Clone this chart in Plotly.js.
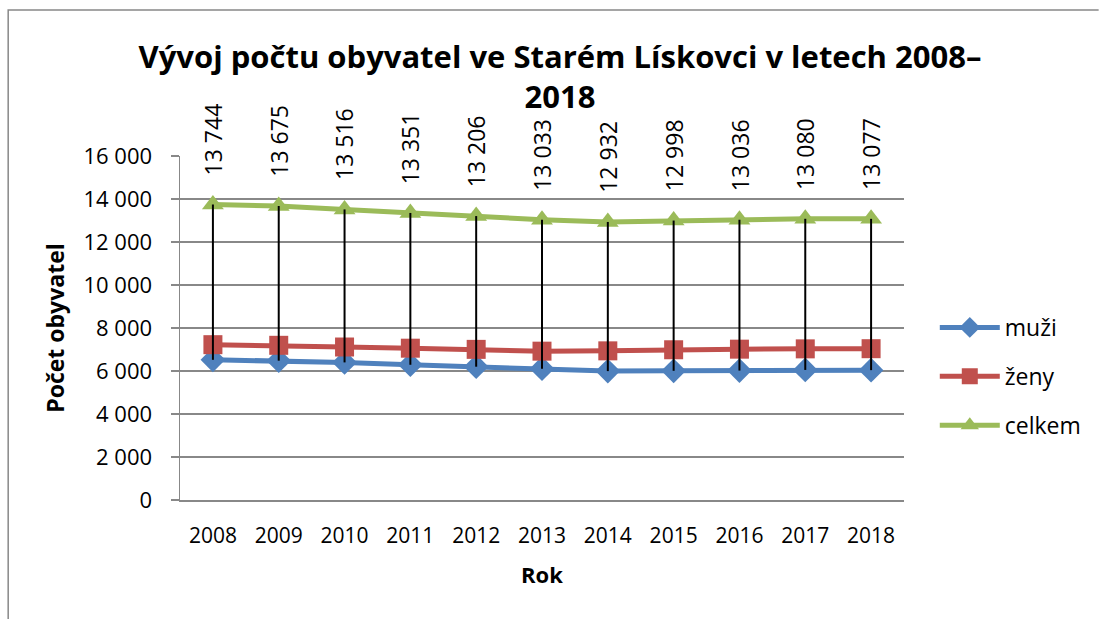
<!DOCTYPE html>
<html>
<head>
<meta charset="utf-8">
<script src="https://cdn.plot.ly/plotly-3.0.1.min.js"></script>
<style>html,body{margin:0;padding:0;background:#fff;}#chart{width:1099px;height:619px;}</style>
</head>
<body>
<div id="chart"></div>
<script>
var years = ['2008','2009','2010','2011','2012','2013','2014','2015','2016','2017','2018'];
var muzi = [6520, 6480, 6400, 6290, 6200, 6110, 5995, 6010, 6020, 6050, 6040];
var zeny = [7224, 7195, 7116, 7061, 7006, 6923, 6937, 6988, 7016, 7030, 7037];
var celkem = [13744, 13675, 13516, 13351, 13206, 13033, 12932, 12998, 13036, 13080, 13077];
var seriesNames = ['muži', 'ženy', 'celkem'];
var titleText = 'Vývoj počtu obyvatel ve Starém Lískovci v letech 2008–<br>2018';
var xTitle = 'Rok';
var yTitle = 'Počet obyvatel';

var FONT = '"Open Sans", "Noto Sans", sans-serif';
var L = 180, T = 156, W = 729, H = 344;
function px(x){ return (x - L) / W; }
function py(y){ return (T + H - y) / H; }
function fmt(v){ return String(v).replace(/\B(?=(\d{3})+(?!\d))/g, ' '); }

// high-low lines built from data
var hlX = [], hlY = [];
for (var i = 0; i < years.length; i++) {
  hlX.push(years[i], years[i], null);
  hlY.push(muzi[i], celkem[i], null);
}

var traces = [
  {x: years, y: muzi, name: seriesNames[0], type: 'scatter', mode: 'lines+markers', legendgroup: 'a',
   line: {color: '#4F81BD', width: 5}, marker: {symbol: 'diamond', size: 19, color: '#4F81BD'}},
  {x: years, y: zeny, name: seriesNames[1], type: 'scatter', mode: 'lines+markers', legendgroup: 'b',
   line: {color: '#C0504D', width: 5}, marker: {symbol: 'square', size: 19, color: '#C0504D'}},
  {x: years, y: celkem, name: seriesNames[2], type: 'scatter', mode: 'lines+markers', legendgroup: 'c',
   line: {color: '#9BBB59', width: 5}, marker: {symbol: 'triangle-up', size: 19, color: '#9BBB59'}},
  {x: hlX, y: hlY, type: 'scatter', mode: 'lines', showlegend: false, hoverinfo: 'skip',
   line: {color: '#000000', width: 2}}
];

// category index positions (years are numeric-looking strings)
var annotations = years.map(function(yr, i){
  return {x: i, y: celkem[i], xref: 'x', yref: 'y', text: fmt(celkem[i]), textangle: -90,
    showarrow: false, yanchor: 'bottom', xanchor: 'center', yshift: 27,
    font: {family: FONT, size: 23, color: '#000'}};
});

var layout = {
  width: 1099, height: 619,
  paper_bgcolor: '#fff', plot_bgcolor: '#fff',
  separators: ', ',
  margin: {l: L, r: 1099 - L - W, t: T, b: 619 - T - H},
  font: {family: FONT, color: '#000'},
  title: {text: titleText, x: 560/1099, xanchor: 'center', xref: 'container', yref: 'container', y: 1 - 68/619, yanchor: 'top',
    font: {family: FONT, size: 31, color: '#000', weight: 'bold'}},
  xaxis: {type: 'category', range: [-0.5, 10.5], showgrid: false, zeroline: false,
    showline: true, linecolor: '#888', linewidth: 1.5, ticks: '', ticklabelstandoff: 16,
    tickfont: {family: FONT, size: 21, color: '#000'},
    title: {text: xTitle, standoff: 20, font: {family: FONT, size: 22, color: '#000', weight: 'bold'}}},
  yaxis: {range: [0, 16000], dtick: 2000, tickformat: ',d', showgrid: true, gridcolor: '#888', gridwidth: 1.5,
    zeroline: false, showline: true, linecolor: '#888', linewidth: 1.5, ticks: 'outside', ticklen: 8, tickcolor: '#888', tickwidth: 1.5,
    ticklabelstandoff: 14, tickfont: {family: FONT, size: 22, color: '#000'},
    title: {text: yTitle, standoff: 12, font: {family: FONT, size: 23, color: '#000', weight: 'bold'}}},
  legend: {x: px(940), xanchor: 'left', y: py(306), yanchor: 'top', itemwidth: 60, tracegroupgap: 16,
    font: {family: FONT, size: 23, color: '#000'}, bgcolor: 'rgba(0,0,0,0)'},
  annotations: annotations,
  shapes: [{type: 'path', xref: 'paper', yref: 'paper',
    path: 'M ' + px(1105) + ',' + py(10) + ' L ' + px(7) + ',' + py(10) + ' L ' + px(7) + ',' + py(625),
    line: {color: '#888', width: 1.5}}],
  showlegend: true
};

Plotly.newPlot('chart', traces, layout, {displayModeBar: false, staticPlot: true});
</script>
</body>
</html>
